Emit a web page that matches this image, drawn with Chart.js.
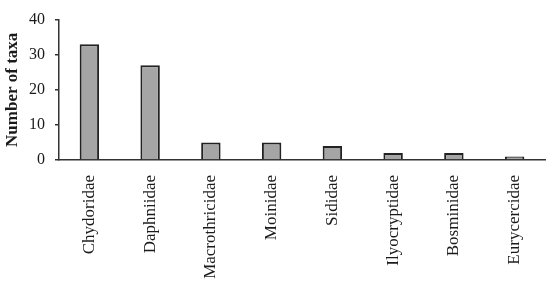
<!DOCTYPE html>
<html>
<head>
<meta charset="utf-8">
<script src="https://cdn.jsdelivr.net/npm/chart.js@4"></script>
<style>
  html, body { margin: 0; padding: 0; background: #fff; }
  #wrap { width: 550px; height: 290px; }
</style>
</head>
<body>
<div id="wrap"><canvas id="chart" width="550" height="290"></canvas></div>
<script>
const families = ['Chydoridae', 'Daphniidae', 'Macrothricidae', 'Moinidae', 'Sididae', 'Ilyocryptidae', 'Bosminidae', 'Eurycercidae'];
const taxaCounts = [33, 27, 5, 5, 4, 2, 2, 1];
const yTicks = [0, 10, 20, 30, 40];

const serif = "'Liberation Serif', 'DejaVu Serif', serif";
const ink = '#1a1a1a';

new Chart(document.getElementById('chart'), {
  type: 'bar',
  data: {
    labels: families,
    datasets: [{
      label: 'Number of taxa',
      data: taxaCounts,
      backgroundColor: '#a5a5a5',
      borderColor: '#222',
      borderWidth: 2,
      categoryPercentage: 1,
      barPercentage: 0.32
    }]
  },
  options: {
    responsive: false,
    animation: false,
    layout: { padding: { top: 12, right: 5, left: 2, bottom: 0 } },
    plugins: { legend: { display: false }, tooltip: { enabled: false } },
    scales: {
      x: {
        grid: { display: false },
        border: { display: true, color: '#333', width: 1.5 },
        ticks: { color: ink, font: { family: serif, size: 17 }, maxRotation: 90, minRotation: 90, padding: 7, autoSkip: false },
        afterFit: (scale) => { scale.height = 130; }
      },
      y: {
        min: 0,
        max: 40,
        afterBuildTicks: (scale) => { scale.ticks = yTicks.map(v => ({ value: v })); },
        grid: { drawOnChartArea: false, drawTicks: true, tickLength: 4, color: '#333', lineWidth: 1.5 },
        border: { display: true, color: '#333', width: 1.5 },
        ticks: { color: ink, font: { family: serif, size: 16 }, padding: 10 },
        title: { display: true, text: 'Number of taxa', color: ink, font: { family: serif, size: 17, weight: 'bold' }, padding: 0 },
        afterFit: (scale) => { scale.width = 57; }
      }
    }
  }
});
</script>
</body>
</html>
